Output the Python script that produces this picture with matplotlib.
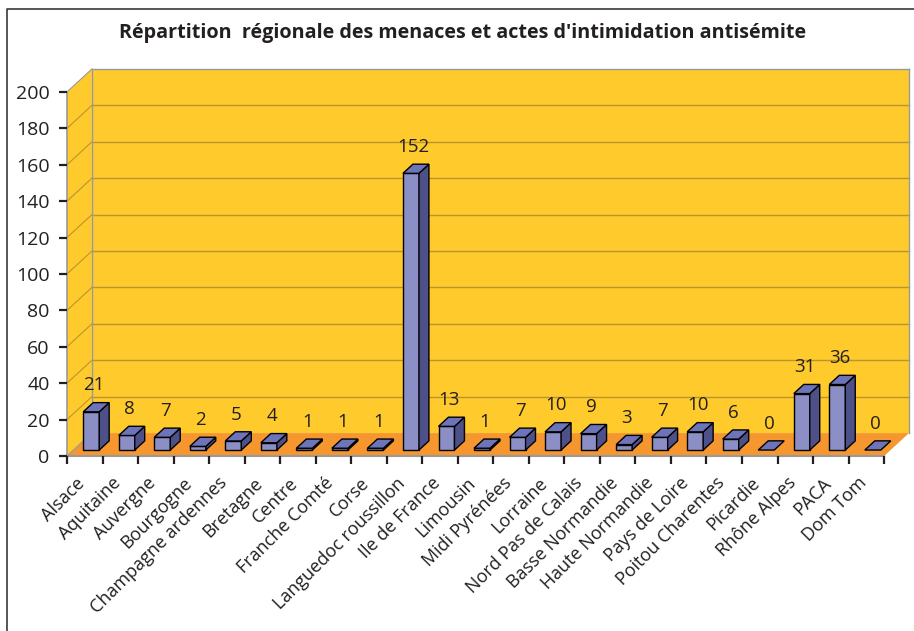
import matplotlib
matplotlib.use("Agg")
import matplotlib.pyplot as plt
from matplotlib.patches import Polygon
from matplotlib.lines import Line2D
from matplotlib.transforms import ScaledTranslation

# ---------------- data ----------------
regions = ["Alsace", "Aquitaine", "Auvergne", "Bourgogne", "Champagne ardennes",
           "Bretagne", "Centre", "Franche Comté", "Corse", "Languedoc roussillon",
           "Ile de France", "Limousin", "Midi Pyrénées", "Lorraine",
           "Nord Pas de Calais", "Basse Normandie", "Haute Normandie",
           "Pays de Loire", "Poitou Charentes", "Picardie", "Rhône Alpes",
           "PACA", "Dom Tom"]
values = [21, 8, 7, 2, 5, 4, 1, 1, 1, 152, 13, 1, 7, 10, 9, 3, 7, 10, 6, 0, 31, 36, 0]
yticks = list(range(0, 201, 20))
title = "Répartition  régionale des menaces et actes d'intimidation antisémite"

# ---------------- style ----------------
plt.rcParams['font.family'] = ['Open Sans', 'DejaVu Sans']
TXT = '#231F20'
WALL = '#FFCA2C'
FLOOR = '#F5962F'
GRID = '#B8962E'
EDGE = '#999999'
FRONT = '#8B8FC6'
TOP = '#6E74BA'
SIDE = '#4E5189'
DX, DY = 0.70, 12.6       # depth offset (category units, value units)
Z0, Z1 = 0.26, 0.66       # bar depth slice
BW = 0.45                 # bar width

W, H = 914, 631
fig = plt.figure(figsize=(W / 100, H / 100), dpi=100)
n = len(regions)
ymax = max(yticks)

ax = fig.add_axes([67 / W, (H - 456) / H, (909 - 67) / W, (456 - 69) / H])
ax.set_xlim(0, n + DX)
ax.set_ylim(0, ymax + DY)
for s in ax.spines.values():
    s.set_visible(False)
ax.patch.set_visible(False)

# walls and floor
ax.add_patch(Polygon([(DX, DY), (n + DX, DY), (n + DX, ymax + DY), (DX, ymax + DY)],
                     closed=True, fc=WALL, ec='none', zorder=0))
ax.add_patch(Polygon([(0, 0), (DX, DY), (DX, ymax + DY), (0, ymax)],
                     closed=True, fc=WALL, ec='none', zorder=0))
ax.add_patch(Polygon([(0, 0), (n, 0), (n + DX, DY), (DX, DY)],
                     closed=True, fc=FLOOR, ec='none', zorder=1))

# gridlines
for g in yticks[1:]:
    c = GRID if g < ymax else EDGE
    ax.add_line(Line2D([DX, n + DX], [g + DY, g + DY], color=c, lw=1, zorder=0.5, clip_on=False))
    ax.add_line(Line2D([0, DX], [g, g + DY], color=c, lw=0.8, zorder=0.5, clip_on=False))
# wall edges
ax.add_line(Line2D([0, 0], [0, ymax], color=EDGE, lw=1.2, zorder=1.5, clip_on=False))
ax.add_line(Line2D([DX, DX], [DY, ymax + DY], color=EDGE, lw=1, zorder=0.6, clip_on=False))
ax.add_line(Line2D([n + DX, n + DX], [DY, ymax + DY], color=EDGE, lw=1, zorder=0.6, clip_on=False))
ax.add_line(Line2D([0, n], [0, 0], color=EDGE, lw=1.5, zorder=1.2, clip_on=False))
ax.add_line(Line2D([0, DX], [0, DY], color=EDGE, lw=0.8, zorder=1.2, clip_on=False))

# bars
a, b = Z0 * DX, Z0 * DY
c, d = Z1 * DX, Z1 * DY
for i, v in enumerate(values):
    x0 = i + 0.5 - BW / 2
    x1 = i + 0.5 + BW / 2
    kw = dict(closed=True, ec='black', lw=1.0, zorder=3, joinstyle='miter')
    if v > 0:
        ax.add_patch(Polygon([(x0 + a, b), (x1 + a, b), (x1 + a, v + b), (x0 + a, v + b)], fc=FRONT, **kw))
        ax.add_patch(Polygon([(x1 + a, b), (x1 + c, d), (x1 + c, v + d), (x1 + a, v + b)], fc=SIDE, **kw))
    ax.add_patch(Polygon([(x0 + a, v + b), (x1 + a, v + b), (x1 + c, v + d), (x0 + c, v + d)], fc=TOP, **kw))
    ax.text(i + 0.5 + a + 0.08, v + d + 4.5, str(v), ha='center', va='bottom',
            fontsize=13.5, color=TXT, zorder=4)

# axes ticks
ax.set_yticks(yticks)
ax.set_yticklabels([str(t) for t in yticks])
ax.tick_params(axis='y', direction='out', length=5.5, width=1.6, color=TXT,
               labelsize=14, labelcolor=TXT, pad=7)
ax.set_xticks(range(0, n + 1))
ax.set_xticklabels([''] * (n + 1))
ax.set_xticks([i + 0.5 for i in range(n)], minor=True)
ax.set_xticklabels(regions, minor=True, rotation=45, ha='right', va='top',
                   fontsize=13, color=TXT)
ax.tick_params(axis='x', which='major', direction='out', length=6, width=1.6, color=TXT)
ax.tick_params(axis='x', which='minor', length=0, pad=13)
shift = ScaledTranslation(4 / 100, 0, fig.dpi_scale_trans)
for lbl in ax.get_xticklabels(minor=True):
    lbl.set_transform(lbl.get_transform() + shift)

# title and frame
fig.text(463 / W, 1 - 33 / H, title, ha='center', va='center', fontsize=14.2,
         fontweight='bold', color=TXT)
fig.add_artist(Line2D([7.5 / W, 7.5 / W, 1.0], [0.0, 1 - 9 / H, 1 - 9 / H],
                      transform=fig.transFigure, color='#3A3A3A', lw=1.2))

fig.savefig('out.png', dpi=100)
